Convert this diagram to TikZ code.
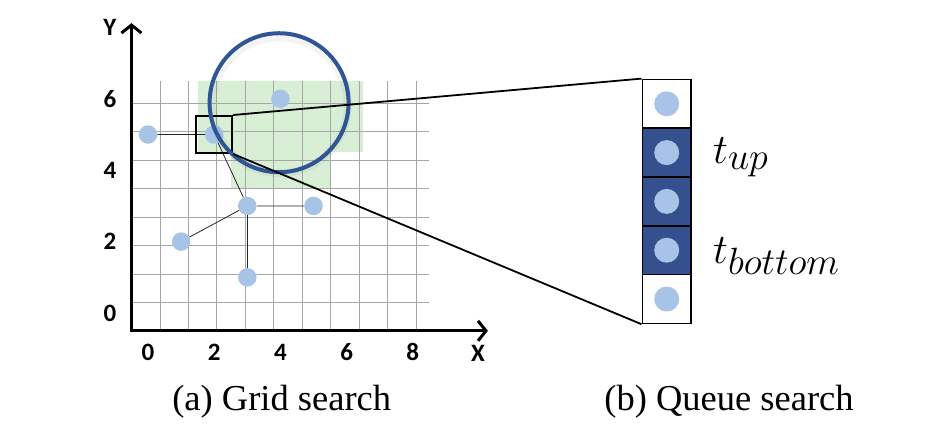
\RequirePackage{fix-cm}
\documentclass[tikz,border=0pt]{standalone}
\usepackage{fontspec}
\newfontfamily\capfont{Liberation Serif}
\newfontfamily\tickfont{Carlito}[BoldFont={Carlito Bold}]
\usepackage{tikz}
\usetikzlibrary{arrows.meta}
\DeclareMathSizes{42}{42}{38}{30}
\definecolor{dotblue}{HTML}{A7C4E6}
\definecolor{gridgray}{HTML}{A6A6A6}
\definecolor{zonegreen}{HTML}{D8EFD6}
\definecolor{lensblue}{HTML}{2F5597}
\definecolor{qblue}{HTML}{34508F}

\begin{document}
\begin{tikzpicture}[x=1pt,y=-1pt,
  pt/.style={circle,fill=dotblue,inner sep=0,minimum size=18.5pt},
  link/.style={black!85,line width=0.8pt},
  tick/.style={font=\tickfont\bfseries\fontsize{25}{28}\selectfont,inner sep=0},
  axis/.style={line width=3pt,{Straight Barb[length=8pt,width=20pt]}-{Straight Barb[length=8pt,width=20pt]}},
  lens/.style={circle,draw=lensblue,line width=4pt,minimum size=139pt,inner sep=0},
  qcell/.style={draw,line width=1.6pt,minimum size=48.8pt,inner sep=0,
    path picture={\fill[dotblue] (path picture bounding box.center) circle[radius=12.5pt];}},
  zoomline/.style={line width=1.8pt},
  subcap/.style={font=\capfont\fontsize{36.5}{40}\selectfont,inner sep=0}]
\useasboundingbox (0,0) rectangle (950,429);

\begin{scope}[shift={(148,313)},x=33.1pt,y=35.7pt]
\fill[zonegreen] (1.5,4.5) rectangle (6.5,6.5);
\fill[zonegreen] (2.5,3.5) rectangle (5.5,4.5);
\draw[gridgray,line width=0.8pt,shift={(-0.5,-0.5)}] (0,0) grid (9,7);
\draw[axis] (10.27,-0.5) -- (-0.5,-0.5) -- (-0.5,8.12);

\foreach \v in {0,2,...,8}
  \node[tick] (xt\v) at (\v,-1.09) {\v};
\foreach \v in {0,2,4,6}
  \node[tick] (yt\v) at (-1.15,\v) {\v};
\node[tick] (xlab) at (9.97,-1.12) {X};
\node[tick] (ylab) at (-1.15,8.01) {Y};

\foreach \a/\b in {0/5,2/5,4/6,3/3,5/3,1/2,3/1}
  \node[pt] (d\a\b) at (\a,\b) {};
\draw[link] (d05) -- (d25) -- (d33) -- (d53);
\draw[link] (d33) -- (d12);
\draw[link] (d33) -- (d31);

\node[draw,line width=2pt,minimum width=36pt,minimum height=37pt,inner sep=0] (win) at (2,5) {};
% soft shade under the lens
\node[circle,draw=black,opacity=0.045,line width=8pt,minimum size=136pt,inner sep=0] (shade) at (3.98,5.82) {};
\node[lens] (lens) at (3.96,5.89) {};
\end{scope}

\foreach \i/\f in {1/white,2/qblue,3/qblue,4/qblue,5/white}
  \node[qcell,fill=\f] (q\i) at (666.7,55+48.8*\i) {};
\draw[zoomline] (win.north east) -- (q1.north west);
\draw[zoomline] (win.south east) -- (q5.south west);

\node[anchor=base west,inner sep=0] (tup) at (713,163) {\fontsize{42}{46}\selectfont$t_{up}$};
\node[anchor=base west,inner sep=0] (tbot) at (713,263) {\fontsize{42}{46}\selectfont$t_{bottom}$};

\node[subcap,anchor=base] (capa) at (281.7,410) {(a) Grid search};
\node[subcap,anchor=base] (capb) at (729,410) {(b) Queue search};
\end{tikzpicture}
\end{document}
